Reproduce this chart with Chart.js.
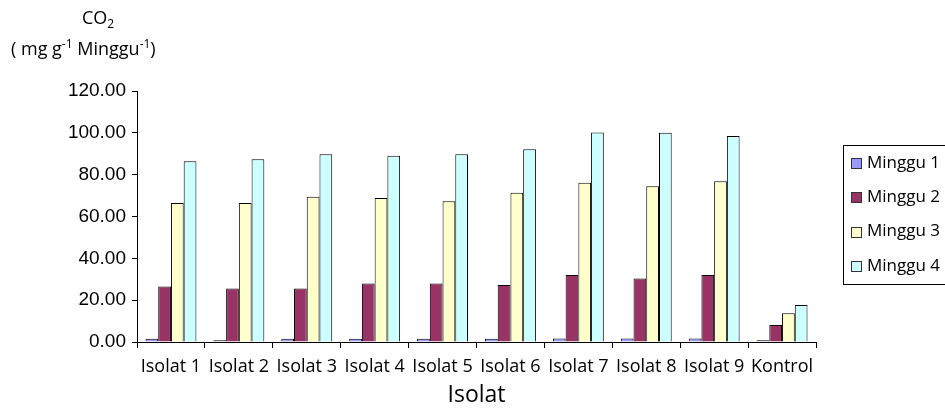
<!DOCTYPE html>
<html>
<head>
<meta charset="utf-8">
<script src="https://cdn.jsdelivr.net/npm/chart.js@4"></script>
<style>
  body { margin: 0; background: #fff; }
  #wrap { width: 945px; height: 409px; }
</style>
</head>
<body>
<div id="wrap"><canvas id="co2Chart" width="945" height="409"></canvas></div>
<script>
// data
const categories = ['Isolat 1', 'Isolat 2', 'Isolat 3', 'Isolat 4', 'Isolat 5', 'Isolat 6', 'Isolat 7', 'Isolat 8', 'Isolat 9', 'Kontrol'];
const seriesNames = ['Minggu 1', 'Minggu 2', 'Minggu 3', 'Minggu 4'];
const minggu1 = [1.6, 0.8, 1.6, 1.6, 1.6, 1.6, 1.7, 1.7, 1.7, 0.8];
const minggu2 = [26.5, 25.6, 25.6, 28.0, 28.0, 27.2, 32.0, 30.4, 32.0, 8.1];
const minggu3 = [66.5, 66.5, 69.5, 68.9, 67.3, 71.3, 76.1, 74.5, 76.9, 13.7];
const minggu4 = [86.4, 87.4, 89.8, 89.0, 89.8, 92.1, 100.1, 100.0, 98.5, 17.7];
const yTicks = [0, 20, 40, 60, 80, 100, 120];
const colors = ['#9999FF', '#993366', '#FFFFCC', '#CCFFFF'];

const seriesValues = [minggu1, minggu2, minggu3, minggu4];

// y title above the axis (with sub/superscripts) and the legend box on the right
const extrasPlugin = {
    id: 'extras',
    afterDraw(chart) {
        const ctx = chart.ctx;
        ctx.save();
        ctx.fillStyle = '#000';
        ctx.textBaseline = 'alphabetic';
        ctx.textAlign = 'left';

        function runs(x, y, parts) {
            parts.forEach(p => {
                ctx.font = p.size + 'px "Open Sans"';
                ctx.fillText(p.t, x, y + (p.dy || 0));
                x += ctx.measureText(p.t).width;
            });
        }
        runs(82, 24, [{ t: 'CO', size: 18 }, { t: '2', size: 12, dy: 4 }]);
        runs(11, 55, [
            { t: '( mg g', size: 18 },
            { t: '-1', size: 12, dy: -7 },
            { t: ' Minggu', size: 18 },
            { t: '-1', size: 12, dy: -7 },
            { t: ')', size: 18 }
        ]);

        // legend
        const lx = 843, top = 145, bottom = 284;
        ctx.strokeStyle = '#000';
        ctx.lineWidth = 1;
        ctx.strokeRect(lx + 0.5, top + 0.5, 200, bottom - top);
        ctx.font = '17px "Open Sans"';
        ctx.textBaseline = 'middle';
        chart.data.datasets.forEach((ds, i) => {
            const cy = 163 + i * 34.3;
            ctx.fillStyle = ds.backgroundColor;
            ctx.fillRect(851, Math.round(cy - 5), 10, 10);
            ctx.strokeStyle = '#333';
            ctx.strokeRect(851.5, Math.round(cy - 5) + 0.5, 10, 10);
            ctx.fillStyle = '#000';
            ctx.fillText(ds.label, 867, cy);
        });
        ctx.restore();
    }
};

const ctx = document.getElementById('co2Chart').getContext('2d');
new Chart(ctx, {
    type: 'bar',
    data: {
        labels: categories,
        datasets: seriesNames.map((name, i) => ({
            label: name,
            data: seriesValues[i],
            backgroundColor: colors[i],
            borderColor: '#000',
            borderWidth: 1,
            categoryPercentage: 0.75,
            barPercentage: 1
        }))
    },
    options: {
        responsive: false,
        animation: false,
        layout: { padding: { top: 91, right: 129, left: 0, bottom: 0 } },
        plugins: {
            legend: { display: false },
            tooltip: { enabled: false }
        },
        scales: {
            x: {
                grid: { offset: true, drawOnChartArea: false, drawTicks: true, tickLength: 6, color: '#000' },
                border: { color: '#000', width: 1 },
                ticks: {
                    autoSkip: false,
                    maxRotation: 0,
                    padding: 8,
                    color: '#000',
                    font: { family: 'Open Sans', size: 18 }
                },
                title: {
                    display: true,
                    text: 'Isolat',
                    color: '#000',
                    padding: { top: 4, bottom: 0 },
                    font: { family: 'Open Sans', size: 23 }
                },
                afterFit(scale) { scale.height = 67; }
            },
            y: {
                min: 0,
                max: 120,
                afterBuildTicks(scale) { scale.ticks = yTicks.map(v => ({ value: v })); },
                grid: { drawOnChartArea: false, drawTicks: true, tickLength: 5, color: '#000' },
                border: { color: '#000', width: 1 },
                ticks: {
                    padding: 6,
                    color: '#000',
                    font: { family: 'Liberation Sans', size: 19 },
                    callback: v => Number(v).toFixed(2)
                },
                afterFit(scale) { scale.width = 137; }
            }
        }
    },
    plugins: [extrasPlugin]
});
</script>
</body>
</html>
